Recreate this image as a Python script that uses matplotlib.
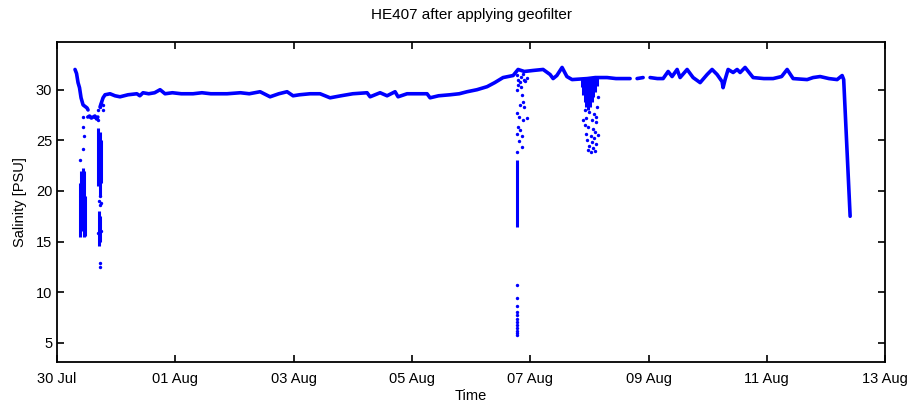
import matplotlib
matplotlib.use('Agg')
import matplotlib.pyplot as plt
import matplotlib.dates as mdates
import numpy as np

plt.rcParams['font.family'] = ['Liberation Sans', 'DejaVu Sans']

# start of cruise record, times below are days after this
start = np.datetime64('2013-07-30T00:00')

# continuous salinity track (NaN = gap in record)
track_days = [0.304, 0.33, 0.355, 0.38, 0.406, 0.44, 0.507, 0.524, np.nan,
              0.52, 0.55, 0.58, 0.61, 0.64, 0.67, 0.69, np.nan,
              0.727, 0.778, 0.812, 0.896, 0.98, 1.065, 1.20, 1.35, 1.40, 1.454,
              1.55, 1.65, 1.742, 1.826, 1.95, 2.10, 2.300, 2.45, 2.60,
              2.875, 3.10, 3.25, 3.433, 3.602, 3.75, 3.889, 3.991, 4.10,
              4.278, 4.447, 4.616, 4.80, 5.00, 5.242,
              5.293, 5.462, 5.580, 5.715, 5.766, 5.918, 6.10, 6.256, 6.307, 6.45,
              6.645, 6.80, 6.933, 7.10, 7.271, 7.40, 7.541, 7.711, 7.795, 7.90,
              8.049, 8.218, 8.336, 8.387, 8.45,
              8.539, 8.62, 8.708, 8.962, 9.10, 9.300, 9.45, 9.689, np.nan,
              9.807, 9.909, np.nan,
              10.027, 10.15, 10.247, 10.332, 10.399, 10.484, 10.534, 10.653, 10.754,
              10.873, 10.991, 11.075, 11.160, 11.244, 11.261, 11.295, 11.346,
              11.431, 11.498, 11.549, 11.633, 11.769, 11.95, 12.107, 12.25, 12.344,
              12.445, 12.682, 12.783, 12.902, 13.05, 13.189, 13.274, 13.30, 13.409]
track_sal = [32.0, 31.6, 30.7, 30.2, 29.2, 28.5, 28.2, 28.0, np.nan,
             27.3, 27.4, 27.2, 27.3, 27.4, 27.1, 27.3, np.nan,
             28.3, 29.2, 29.5, 29.6, 29.4, 29.3, 29.5, 29.6, 29.4, 29.7,
             29.6, 29.7, 30.0, 29.6, 29.7, 29.6, 29.6, 29.7, 29.6,
             29.6, 29.7, 29.6, 29.8, 29.3, 29.6, 29.8, 29.4, 29.5,
             29.6, 29.6, 29.2, 29.4, 29.6, 29.7,
             29.3, 29.7, 29.4, 29.8, 29.3, 29.6, 29.6, 29.6, 29.2, 29.4,
             29.5, 29.6, 29.8, 30.0, 30.3, 30.7, 31.2, 31.4, 32.0, 31.8,
             31.9, 32.0, 31.5, 31.1, 31.4,
             32.2, 31.3, 31.0, 31.1, 31.2, 31.2, 31.1, 31.1, np.nan,
             31.1, 31.2, np.nan,
             31.2, 31.1, 31.1, 31.8, 31.3, 32.0, 31.2, 32.0, 31.2,
             30.7, 31.5, 32.0, 31.5, 30.8, 30.2, 31.0, 32.0,
             31.7, 32.0, 31.7, 32.2, 31.2, 31.1, 31.1, 31.3, 32.0,
             31.1, 31.0, 31.2, 31.3, 31.1, 31.0, 31.4, 31.0, 17.5]

# dense bursts of low salinity readings: time, lowest, highest
burst_days = [0.38, 0.40, 0.42, 0.44, 0.46, 0.48,
              0.69, 0.72, 0.74, 0.71, 0.73,
              7.778,
              8.88, 8.90, 8.92, 8.95, 8.98, 9.01, 9.04, 9.07, 9.10, 9.13]
burst_low = [15.5, 16.0, 16.5, 17.0, 15.5, 15.6,
             20.5, 19.5, 20.8, 14.6, 15.0,
             16.4,
             30.3, 29.5, 28.8, 28.3, 28.0, 28.3, 28.8, 29.3, 29.8, 30.4]
burst_high = [20.8, 22.0, 21.5, 22.3, 22.0, 19.5,
              26.2, 25.8, 25.0, 18.0, 17.5,
              23.1,
              31.2, 31.2, 31.2, 31.2, 31.2, 31.2, 31.2, 31.2, 31.2, 31.2]

# single scattered readings
spot_days = [0.44, 0.44, 0.45, 0.44, 0.39,
             0.71, 0.72, 0.74, 0.73, 0.727, 0.727, 0.70, 0.75, 0.69, 0.70,
             0.72, 0.74, 0.78, 0.77,
             7.78, 7.86, 7.88, 7.83, 7.90, 7.78, 7.81, 7.88, 7.95, 7.80, 7.83,
             7.78, 7.86, 7.81, 7.86, 7.78,
             7.78, 7.80, 7.82, 7.85, 7.88, 7.92, 7.95, 7.80, 7.84, 7.90,
             7.778, 7.778, 7.778, 7.778, 7.778, 7.778, 7.778, 7.778, 7.778,
             7.778, 7.778, 7.778,
             8.93, 9.00, 9.08, 8.95, 9.05, 9.12, 8.92, 8.98, 9.06, 9.10, 8.94,
             9.02, 9.08, 8.96, 9.04, 9.12, 8.99, 9.07, 9.10, 9.03, 8.97, 9.14,
             9.11, 8.90, 9.13, 9.15]
spot_sal = [27.3, 26.3, 25.4, 24.1, 23.1,
            19.0, 18.6, 18.8, 19.5, 12.9, 12.5, 15.8, 16.0, 27.0, 28.0,
            28.3, 28.7, 28.5, 28.0,
            30.0, 29.5, 28.8, 28.5, 28.3, 27.7, 27.3, 27.0, 27.2, 26.3, 26.0,
            25.6, 25.4, 24.9, 24.3, 23.8,
            31.5, 31.0, 30.8, 31.3, 31.6, 30.9, 31.2, 30.5, 30.3, 31.0,
            10.7, 9.4, 8.6, 8.0, 7.7, 7.4, 7.1, 6.8, 6.5, 6.2, 6.0, 5.8,
            28.0, 27.8, 27.6, 27.2, 27.0, 26.8, 26.5, 26.3, 26.1, 25.8, 25.6,
            25.4, 25.2, 25.0, 24.8, 24.6, 24.4, 24.2, 23.9, 23.8, 24.0, 25.5,
            27.3, 27.0, 28.3, 29.3]


def to_dates(days):
    base = mdates.date2num(start.astype('datetime64[s]').astype(object))
    return base + np.asarray(days, dtype=float)


fig = plt.figure(figsize=(9.17, 4.05), dpi=100)
ax = fig.add_axes([0.0622, 0.106, 0.903, 0.790])

blue = '#0000ff'
ax.plot(to_dates(track_days), track_sal, '-', color=blue, lw=2.6,
        solid_capstyle='round', solid_joinstyle='round')
ax.vlines(to_dates(burst_days), burst_low, burst_high, color=blue, lw=2.2)
ax.scatter(to_dates(spot_days), spot_sal, s=6, color=blue, linewidths=0)

ax.set_xlim(to_dates([0, 14]))
ax.set_ylim(3.1, 34.7)
ax.set_xticks(to_dates([0, 2, 4, 6, 8, 10, 12, 14]))
ax.xaxis.set_major_formatter(mdates.DateFormatter('%d %b'))
ax.set_yticks([5, 10, 15, 20, 25, 30])

ax.tick_params(direction='in', top=True, right=True, length=5, width=1.2,
               labelsize=10.5, colors='black')
ax.tick_params(axis='x', pad=7)
for s in ax.spines.values():
    s.set_linewidth(1.3)

ax.set_xlabel('Time', fontsize=10.5, labelpad=2)
ax.set_ylabel('Salinity [PSU]', fontsize=10.5, labelpad=6)
ax.set_title('HE407 after applying geofilter', fontsize=11, pad=17)

fig.savefig('out.png', dpi=100)
plt.close(fig)
